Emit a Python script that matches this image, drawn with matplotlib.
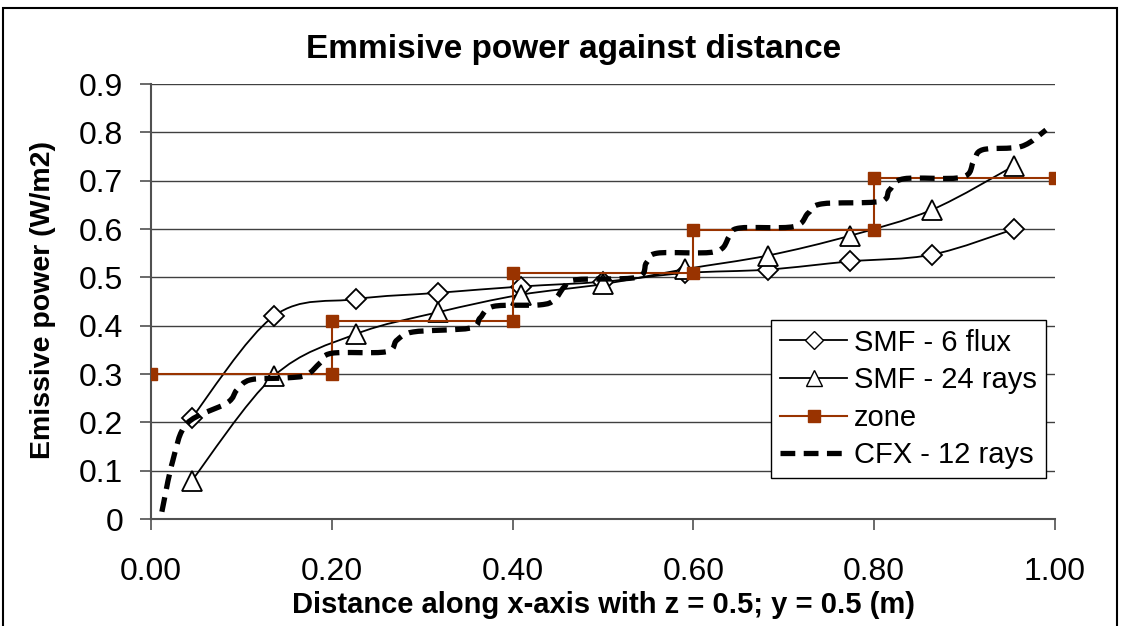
import matplotlib.pyplot as plt
import numpy as np
from matplotlib.path import Path
from matplotlib.patches import PathPatch, Rectangle
from matplotlib.lines import Line2D

plt.rcParams['font.family'] = ['Liberation Sans', 'DejaVu Sans']

# dados
x_smf = [0.045, 0.136, 0.227, 0.318, 0.409, 0.500, 0.591, 0.682, 0.773, 0.864, 0.955]
smf_6flux = [0.209, 0.420, 0.455, 0.468, 0.481, 0.491, 0.509, 0.516, 0.533, 0.547, 0.600]
smf_24rays = [0.079, 0.296, 0.383, 0.428, 0.464, 0.486, 0.517, 0.545, 0.586, 0.640, 0.731]

x_zone = [0.0, 0.2, 0.2, 0.4, 0.4, 0.6, 0.6, 0.8, 0.8, 1.0]
zone = [0.300, 0.300, 0.410, 0.410, 0.508, 0.508, 0.598, 0.598, 0.706, 0.706]

x_cfx = [0.012, 0.024, 0.040, 0.084, 0.095, 0.110, 0.150, 0.172, 0.187, 0.200,
         0.260, 0.272, 0.290, 0.353, 0.364, 0.379, 0.430, 0.446, 0.457, 0.470,
         0.537, 0.548, 0.560, 0.624, 0.640, 0.651, 0.711, 0.727, 0.742, 0.806,
         0.817, 0.833, 0.897, 0.910, 0.920, 0.963, 0.990]
cfx = [0.015, 0.120, 0.198, 0.240, 0.267, 0.288, 0.292, 0.298, 0.323, 0.343,
       0.346, 0.370, 0.387, 0.395, 0.416, 0.440, 0.443, 0.453, 0.480, 0.495,
       0.500, 0.530, 0.550, 0.553, 0.585, 0.602, 0.605, 0.633, 0.652, 0.657,
       0.681, 0.704, 0.707, 0.740, 0.764, 0.771, 0.805]


def curva_suave(x, y):
    # linha suavizada tipo Excel (Bezier cúbica)
    p = np.column_stack([x, y])
    n = len(p)
    verts = [p[0]]
    codes = [Path.MOVETO]
    for i in range(n - 1):
        p0 = p[i - 1] if i > 0 else p[i]
        p3 = p[i + 2] if i + 2 < n else p[i + 1]
        c1 = p[i] + (p[i + 1] - p0) / 6
        c2 = p[i + 1] - (p3 - p[i]) / 6
        verts += [c1, c2, p[i + 1]]
        codes += [Path.CURVE4] * 3
    return Path(verts, codes)


fig = plt.figure(figsize=(11.22, 6.26), dpi=100)
ax = fig.add_axes([0.1346, 0.1709, 0.8057, 0.6949])

laranja = '#993300'
tracejado = (0, (2.8, 1.6))

ax.add_patch(PathPatch(curva_suave(x_smf, smf_6flux), fill=False, color='black', lw=1.3, zorder=3))
ax.plot(x_smf, smf_6flux, ls='none', marker='D', ms=10, mfc='white', mec='black', mew=1.3, zorder=4)

ax.add_patch(PathPatch(curva_suave(x_smf, smf_24rays), fill=False, color='black', lw=1.3, zorder=3))
ax.plot(x_smf, smf_24rays, ls='none', marker='^', ms=15, mfc='white', mec='black', mew=1.3, zorder=4)

ax.plot(x_zone, zone, color=laranja, lw=1.5, marker='s', ms=8, mfc=laranja, mec=laranja, zorder=5)

ax.add_patch(PathPatch(curva_suave(x_cfx, cfx), fill=False, color='black', lw=3.8,
                       linestyle=tracejado, capstyle='butt', zorder=6))

# configurações do gráfico
ax.set_xlim(0, 1)
ax.set_ylim(0, 0.9)
ax.set_xticks(np.arange(0, 1.01, 0.2))
ax.set_xticklabels(['0.00', '0.20', '0.40', '0.60', '0.80', '1.00'])
ax.set_yticks(np.arange(0, 0.91, 0.1))
ax.set_yticklabels(['0', '0.1', '0.2', '0.3', '0.4', '0.5', '0.6', '0.7', '0.8', '0.9'])
ax.tick_params(axis='both', labelsize=23, direction='out', length=8, width=1.2, color='#505050')
ax.tick_params(axis='x', pad=19)
ax.tick_params(axis='y', pad=12)
ax.grid(axis='y', color='#404040', lw=1)
ax.set_axisbelow(True)
for s in ['top', 'right']:
    ax.spines[s].set_visible(False)
for s in ['left', 'bottom']:
    ax.spines[s].set_color('#505050')
    ax.spines[s].set_linewidth(1.5)

fig.text(0.511, 0.921, 'Emmisive power against distance', ha='center', va='center',
         fontsize=24, fontweight='bold')
fig.text(0.538, 0.034, 'Distance along x-axis with z = 0.5; y = 0.5 (m)', ha='center', va='center',
         fontsize=21, fontweight='bold')
fig.text(0.038, 0.52, 'Emissive power (W/m2)', ha='center', va='center', rotation=90,
         fontsize=20.5, fontweight='bold')

handles = [
    Line2D([], [], color='black', lw=1.3, marker='D', ms=9, mfc='white'),
    Line2D([], [], color='black', lw=1.3, marker='^', ms=12, mfc='white'),
    Line2D([], [], color=laranja, lw=1.5, marker='s', ms=8),
    Line2D([], [], color='black', lw=3.8, linestyle=tracejado),
]
labels = ['SMF - 6 flux', 'SMF - 24 rays', 'zone', 'CFX - 12 rays']
leg = ax.legend(handles, labels, loc='lower right', bbox_to_anchor=(0.99, 0.094),
                fontsize=21, frameon=True, fancybox=False, framealpha=1,
                edgecolor='black', borderaxespad=0, handlelength=2.3,
                handletextpad=0.25, labelspacing=0.33, borderpad=0.3)
leg.get_frame().set_linewidth(1)
leg.set_zorder(10)

# moldura da figura
fig.patches.append(Rectangle((0.0027, -0.05), 0.9928, 1.037, transform=fig.transFigure,
                             fill=False, edgecolor='black', lw=1.5))

fig.savefig('out.png', dpi=100)
